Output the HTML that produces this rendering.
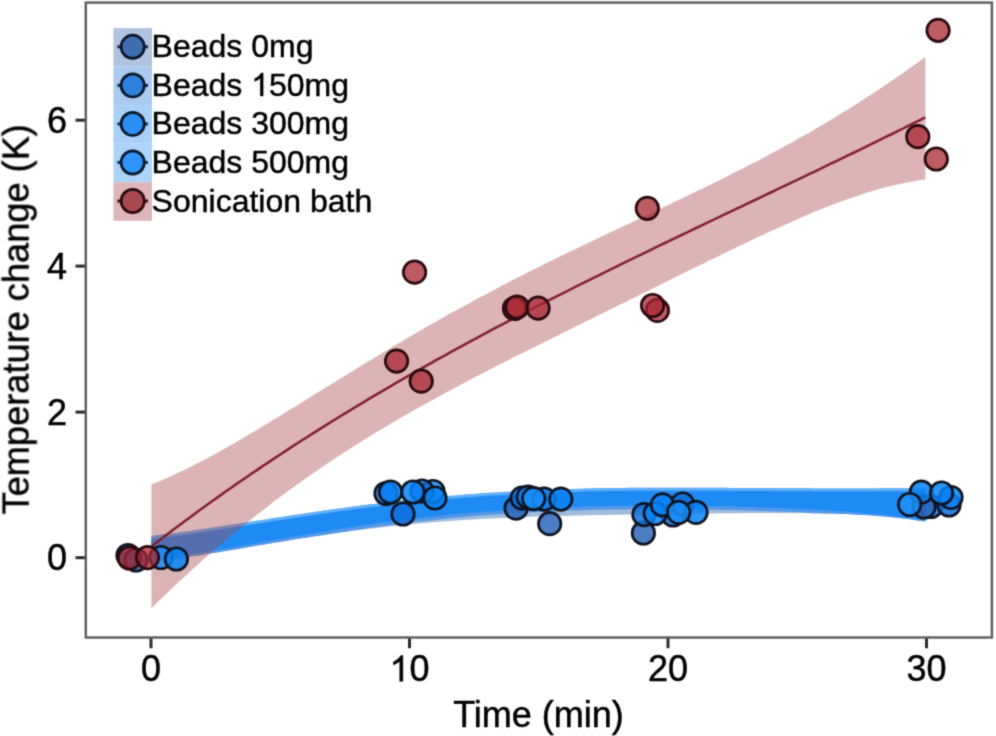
<!DOCTYPE html>
<html><head><meta charset="utf-8"><style>
html,body{margin:0;padding:0;background:#fff;}
svg{display:block;}
#wrap{width:996px;height:736px;}
text{font-family:"Liberation Sans",sans-serif;fill:#000;stroke:#000;stroke-width:0.45px;}
</style></head><body><div id="wrap">
<svg width="996" height="736" viewBox="0 0 996 736">
<defs><filter id="bl" x="0" y="0" width="996" height="736" filterUnits="userSpaceOnUse" color-interpolation-filters="sRGB"><feConvolveMatrix order="5" kernelMatrix="0.00001 0.00042 0.00170 0.00042 0.00001 0.00042 0.02740 0.10988 0.02740 0.00042 0.00170 0.10988 0.44065 0.10988 0.00170 0.00042 0.02740 0.10988 0.02740 0.00042 0.00001 0.00042 0.00170 0.00042 0.00001" edgeMode="duplicate" preserveAlpha="true"/></filter></defs>
<g filter="url(#bl)">
<rect width="996" height="736" fill="#fff"/>
<polygon points="151.5,536.0 157.1,535.3 162.6,534.6 168.2,533.9 173.8,533.2 179.3,532.4 184.9,531.7 190.5,530.9 196.0,530.1 201.6,529.3 207.2,528.4 212.7,527.6 218.3,526.8 223.9,525.9 229.4,525.1 235.0,524.2 240.6,523.3 246.1,522.5 251.7,521.6 257.3,520.7 262.9,519.9 268.4,519.0 274.0,518.1 279.6,517.3 285.1,516.4 290.7,515.6 296.3,514.7 301.8,513.9 307.4,513.1 313.0,512.2 318.5,511.4 324.1,510.6 329.7,509.8 335.2,509.0 340.8,508.3 346.4,507.5 351.9,506.7 357.5,506.0 363.1,505.3 368.6,504.6 374.2,503.9 379.8,503.2 385.3,502.5 390.9,501.9 396.5,501.2 402.0,500.6 407.6,500.0 413.2,499.4 418.7,498.8 424.3,498.2 429.9,497.7 435.4,497.2 441.0,496.6 446.6,496.1 452.2,495.7 457.7,495.2 463.3,494.7 468.9,494.3 474.4,493.9 480.0,493.5 485.6,493.1 491.1,492.7 496.7,492.4 502.3,492.0 507.8,491.7 513.4,491.4 519.0,491.1 524.5,490.8 530.1,490.5 535.7,490.3 541.2,490.0 546.8,489.8 552.4,489.6 557.9,489.4 563.5,489.2 569.1,489.0 574.6,488.9 580.2,488.7 585.8,488.6 591.3,488.4 596.9,488.3 602.5,488.2 608.0,488.1 613.6,488.0 619.2,488.0 624.7,487.9 630.3,487.8 635.9,487.8 641.5,487.8 647.0,487.7 652.6,487.7 658.2,487.7 663.7,487.7 669.3,487.7 674.9,487.7 680.4,487.7 686.0,487.7 691.6,487.7 697.1,487.7 702.7,487.7 708.3,487.7 713.8,487.8 719.4,487.8 725.0,487.8 730.5,487.9 736.1,487.9 741.7,487.9 747.2,488.0 752.8,488.0 758.4,488.1 763.9,488.1 769.5,488.1 775.1,488.2 780.6,488.2 786.2,488.2 791.8,488.3 797.3,488.3 802.9,488.3 808.5,488.3 814.0,488.4 819.6,488.4 825.2,488.4 830.8,488.4 836.3,488.4 841.9,488.4 847.5,488.4 853.0,488.4 858.6,488.4 864.2,488.4 869.7,488.4 875.3,488.4 880.9,488.3 886.4,488.3 892.0,488.3 897.6,488.2 903.1,488.2 908.7,488.1 914.3,488.1 919.8,488.0 925.4,487.9 925.4,521.6 919.8,520.7 914.3,519.9 908.7,519.1 903.1,518.4 897.6,517.8 892.0,517.2 886.4,516.7 880.9,516.2 875.3,515.7 869.7,515.3 864.2,515.0 858.6,514.7 853.0,514.4 847.5,514.1 841.9,513.9 836.3,513.7 830.8,513.5 825.2,513.4 819.6,513.3 814.0,513.2 808.5,513.1 802.9,513.0 797.3,513.0 791.8,513.0 786.2,512.9 780.6,512.9 775.1,512.9 769.5,512.9 763.9,513.0 758.4,513.0 752.8,513.0 747.2,513.1 741.7,513.1 736.1,513.2 730.5,513.2 725.0,513.3 719.4,513.3 713.8,513.4 708.3,513.5 702.7,513.5 697.1,513.6 691.6,513.7 686.0,513.7 680.4,513.8 674.9,513.9 669.3,514.0 663.7,514.0 658.2,514.1 652.6,514.2 647.0,514.3 641.5,514.3 635.9,514.4 630.3,514.5 624.7,514.6 619.2,514.7 613.6,514.8 608.0,514.9 602.5,515.0 596.9,515.1 591.3,515.2 585.8,515.3 580.2,515.4 574.6,515.5 569.1,515.7 563.5,515.8 557.9,515.9 552.4,516.1 546.8,516.3 541.2,516.4 535.7,516.6 530.1,516.8 524.5,517.0 519.0,517.2 513.4,517.4 507.8,517.7 502.3,517.9 496.7,518.2 491.1,518.5 485.6,518.7 480.0,519.0 474.4,519.4 468.9,519.7 463.3,520.1 457.7,520.4 452.2,520.8 446.6,521.2 441.0,521.6 435.4,522.1 429.9,522.5 424.3,523.0 418.7,523.5 413.2,524.0 407.6,524.5 402.0,525.1 396.5,525.7 390.9,526.3 385.3,526.9 379.8,527.5 374.2,528.2 368.6,528.8 363.1,529.5 357.5,530.2 351.9,531.0 346.4,531.7 340.8,532.5 335.2,533.2 329.7,534.0 324.1,534.9 318.5,535.7 313.0,536.5 307.4,537.4 301.8,538.3 296.3,539.1 290.7,540.0 285.1,541.0 279.6,541.9 274.0,542.8 268.4,543.7 262.9,544.7 257.3,545.6 251.7,546.5 246.1,547.5 240.6,548.4 235.0,549.4 229.4,550.3 223.9,551.2 218.3,552.2 212.7,553.1 207.2,554.0 201.6,554.9 196.0,555.7 190.5,556.6 184.9,557.4 179.3,558.2 173.8,559.0 168.2,559.7 162.6,560.4 157.1,561.1 151.5,561.7" fill="rgb(160,188,220)"/>
<polygon points="151.5,536.0 157.1,535.3 162.6,534.6 168.2,533.9 173.8,533.2 179.3,532.4 184.9,531.7 190.5,530.9 196.0,530.1 201.6,529.3 207.2,528.4 212.7,527.6 218.3,526.8 223.9,525.9 229.4,525.1 235.0,524.2 240.6,523.3 246.1,522.5 251.7,521.6 257.3,520.7 262.9,519.9 268.4,519.0 274.0,518.1 279.6,517.3 285.1,516.4 290.7,515.6 296.3,514.7 301.8,513.9 307.4,513.1 313.0,512.2 318.5,511.4 324.1,510.6 329.7,509.8 335.2,509.0 340.8,508.3 346.4,507.5 351.9,506.7 357.5,506.0 363.1,505.3 368.6,504.6 374.2,503.9 379.8,503.2 385.3,502.5 390.9,501.9 396.5,501.2 402.0,500.6 407.6,500.0 413.2,499.4 418.7,498.8 424.3,498.2 429.9,497.7 435.4,497.2 441.0,496.6 446.6,496.1 452.2,495.7 457.7,495.2 463.3,494.7 468.9,494.3 474.4,493.9 480.0,493.5 485.6,493.1 491.1,492.7 496.7,492.4 502.3,492.0 507.8,491.7 513.4,491.4 519.0,491.1 524.5,490.8 530.1,490.5 535.7,490.3 541.2,490.0 546.8,489.8 552.4,489.6 557.9,489.4 563.5,489.2 569.1,489.0 574.6,488.9 580.2,488.7 585.8,488.6 591.3,488.4 596.9,488.3 602.5,488.2 608.0,488.1 613.6,488.0 619.2,488.0 624.7,487.9 630.3,487.8 635.9,487.8 641.5,487.8 647.0,487.7 652.6,487.7 658.2,487.7 663.7,487.7 669.3,487.7 674.9,487.7 680.4,487.7 686.0,487.7 691.6,487.7 697.1,487.7 702.7,487.7 708.3,487.7 713.8,487.8 719.4,487.8 725.0,487.8 730.5,487.9 736.1,487.9 741.7,487.9 747.2,488.0 752.8,488.0 758.4,488.1 763.9,488.1 769.5,488.1 775.1,488.2 780.6,488.2 786.2,488.2 791.8,488.3 797.3,488.3 802.9,488.3 808.5,488.3 814.0,488.4 819.6,488.4 825.2,488.4 830.8,488.4 836.3,488.4 841.9,488.4 847.5,488.4 853.0,488.4 858.6,488.4 864.2,488.4 869.7,488.4 875.3,488.4 880.9,488.3 886.4,488.3 892.0,488.3 897.6,488.2 903.1,488.2 908.7,488.1 914.3,488.1 919.8,488.0 925.4,487.9 925.4,520.2 919.8,519.4 914.3,518.6 908.7,517.9 903.1,517.2 897.6,516.5 892.0,515.9 886.4,515.3 880.9,514.7 875.3,514.2 869.7,513.7 864.2,513.2 858.6,512.7 853.0,512.3 847.5,511.8 841.9,511.4 836.3,511.1 830.8,510.7 825.2,510.3 819.6,510.0 814.0,509.7 808.5,509.4 802.9,509.1 797.3,508.8 791.8,508.6 786.2,508.3 780.6,508.1 775.1,507.9 769.5,507.7 763.9,507.5 758.4,507.3 752.8,507.1 747.2,507.0 741.7,506.8 736.1,506.7 730.5,506.5 725.0,506.4 719.4,506.3 713.8,506.2 708.3,506.1 702.7,506.0 697.1,506.0 691.6,505.9 686.0,505.8 680.4,505.8 674.9,505.7 669.3,505.7 663.7,505.7 658.2,505.7 652.6,505.7 647.0,505.7 641.5,505.7 635.9,505.8 630.3,505.8 624.7,505.9 619.2,505.9 613.6,506.0 608.0,506.1 602.5,506.2 596.9,506.3 591.3,506.5 585.8,506.6 580.2,506.8 574.6,506.9 569.1,507.1 563.5,507.3 557.9,507.5 552.4,507.7 546.8,508.0 541.2,508.2 535.7,508.5 530.1,508.8 524.5,509.1 519.0,509.4 513.4,509.8 507.8,510.1 502.3,510.5 496.7,510.9 491.1,511.3 485.6,511.7 480.0,512.1 474.4,512.6 468.9,513.0 463.3,513.5 457.7,514.0 452.2,514.6 446.6,515.1 441.0,515.7 435.4,516.3 429.9,516.9 424.3,517.5 418.7,518.1 413.2,518.8 407.6,519.4 402.0,520.1 396.5,520.8 390.9,521.6 385.3,522.3 379.8,523.1 374.2,523.8 368.6,524.6 363.1,525.4 357.5,526.3 351.9,527.1 346.4,528.0 340.8,528.8 335.2,529.7 329.7,530.6 324.1,531.5 318.5,532.4 313.0,533.3 307.4,534.3 301.8,535.2 296.3,536.2 290.7,537.1 285.1,538.1 279.6,539.1 274.0,540.0 268.4,541.0 262.9,542.0 257.3,543.0 251.7,543.9 246.1,544.9 240.6,545.9 235.0,546.9 229.4,547.8 223.9,548.8 218.3,549.7 212.7,550.6 207.2,551.5 201.6,552.4 196.0,553.3 190.5,554.2 184.9,555.0 179.3,555.8 173.8,556.6 168.2,557.4 162.6,558.1 157.1,558.8 151.5,559.5" fill="rgb(95,175,248)"/>
<polygon points="151.5,539.0 157.1,538.3 162.6,537.6 168.2,536.9 173.8,536.2 179.3,535.4 184.9,534.7 190.5,533.9 196.0,533.1 201.6,532.3 207.2,531.4 212.7,530.6 218.3,529.8 223.9,528.9 229.4,528.1 235.0,527.2 240.6,526.3 246.1,525.5 251.7,524.6 257.3,523.7 262.9,522.9 268.4,522.0 274.0,521.1 279.6,520.3 285.1,519.4 290.7,518.6 296.3,517.7 301.8,516.9 307.4,516.1 313.0,515.2 318.5,514.4 324.1,513.6 329.7,512.8 335.2,512.0 340.8,511.3 346.4,510.5 351.9,509.7 357.5,509.0 363.1,508.3 368.6,507.6 374.2,506.9 379.8,506.2 385.3,505.5 390.9,504.9 396.5,504.2 402.0,503.6 407.6,503.0 413.2,502.4 418.7,501.8 424.3,501.2 429.9,500.7 435.4,500.2 441.0,499.6 446.6,499.1 452.2,498.7 457.7,498.2 463.3,497.7 468.9,497.3 474.4,496.9 480.0,496.5 485.6,496.1 491.1,495.7 496.7,495.4 502.3,495.0 507.8,494.7 513.4,494.4 519.0,494.1 524.5,493.8 530.1,493.5 535.7,493.3 541.2,493.0 546.8,492.8 552.4,492.6 557.9,492.4 563.5,492.2 569.1,492.0 574.6,491.9 580.2,491.7 585.8,491.6 591.3,491.4 596.9,491.3 602.5,491.2 608.0,491.1 613.6,491.0 619.2,491.0 624.7,490.9 630.3,490.8 635.9,490.8 641.5,490.8 647.0,490.7 652.6,490.7 658.2,490.7 663.7,490.7 669.3,490.7 674.9,490.7 680.4,490.7 686.0,490.7 691.6,490.7 697.1,490.7 702.7,490.7 708.3,490.7 713.8,490.8 719.4,490.8 725.0,490.8 730.5,490.9 736.1,490.9 741.7,490.9 747.2,491.0 752.8,491.0 758.4,491.1 763.9,491.1 769.5,491.1 775.1,491.2 780.6,491.2 786.2,491.2 791.8,491.3 797.3,491.3 802.9,491.3 808.5,491.3 814.0,491.4 819.6,491.4 825.2,491.4 830.8,491.4 836.3,491.4 841.9,491.4 847.5,491.4 853.0,491.4 858.6,491.4 864.2,491.4 869.7,491.4 875.3,491.4 880.9,491.3 886.4,491.3 892.0,491.3 897.6,491.2 903.1,491.2 908.7,491.1 914.3,491.1 919.8,491.0 925.4,490.9 925.4,521.6 919.8,520.7 914.3,519.9 908.7,519.1 903.1,518.4 897.6,517.8 892.0,517.2 886.4,516.7 880.9,516.2 875.3,515.7 869.7,515.3 864.2,515.0 858.6,514.7 853.0,514.4 847.5,514.1 841.9,513.9 836.3,513.7 830.8,513.5 825.2,513.4 819.6,513.3 814.0,513.2 808.5,512.9 802.9,512.6 797.3,512.3 791.8,512.1 786.2,511.8 780.6,511.6 775.1,511.4 769.5,511.2 763.9,511.0 758.4,510.8 752.8,510.6 747.2,510.5 741.7,510.3 736.1,510.2 730.5,510.0 725.0,509.9 719.4,509.8 713.8,509.7 708.3,509.6 702.7,509.5 697.1,509.5 691.6,509.4 686.0,509.3 680.4,509.3 674.9,509.2 669.3,509.2 663.7,509.2 658.2,509.2 652.6,509.2 647.0,509.2 641.5,509.2 635.9,509.3 630.3,509.3 624.7,509.4 619.2,509.4 613.6,509.5 608.0,509.6 602.5,509.7 596.9,509.8 591.3,510.0 585.8,510.1 580.2,510.3 574.6,510.4 569.1,510.6 563.5,510.8 557.9,511.0 552.4,511.2 546.8,511.5 541.2,511.7 535.7,512.0 530.1,512.3 524.5,512.6 519.0,512.9 513.4,513.3 507.8,513.6 502.3,514.0 496.7,514.4 491.1,514.8 485.6,515.2 480.0,515.6 474.4,516.1 468.9,516.5 463.3,517.0 457.7,517.5 452.2,518.1 446.6,518.6 441.0,519.2 435.4,519.8 429.9,520.4 424.3,521.0 418.7,521.6 413.2,522.3 407.6,522.9 402.0,523.6 396.5,524.3 390.9,525.1 385.3,525.8 379.8,526.6 374.2,527.3 368.6,528.1 363.1,528.9 357.5,529.8 351.9,530.6 346.4,531.5 340.8,532.3 335.2,533.2 329.7,534.0 324.1,534.9 318.5,535.7 313.0,536.5 307.4,537.4 301.8,538.3 296.3,539.1 290.7,540.0 285.1,541.0 279.6,541.9 274.0,542.8 268.4,543.7 262.9,544.7 257.3,545.6 251.7,546.5 246.1,547.5 240.6,548.4 235.0,549.4 229.4,550.3 223.9,551.2 218.3,552.2 212.7,553.1 207.2,554.0 201.6,554.9 196.0,555.7 190.5,556.6 184.9,557.4 179.3,558.2 173.8,559.0 168.2,559.7 162.6,560.4 157.1,561.1 151.5,561.7" fill="rgb(82,152,232)"/>
<polygon points="151.5,539.0 157.1,538.3 162.6,537.6 168.2,536.9 173.8,536.2 179.3,535.4 184.9,534.7 190.5,533.9 196.0,533.1 201.6,532.3 207.2,531.4 212.7,530.6 218.3,529.8 223.9,528.9 229.4,528.1 235.0,527.2 240.6,526.3 246.1,525.5 251.7,524.6 257.3,523.7 262.9,522.9 268.4,522.0 274.0,521.1 279.6,520.3 285.1,519.4 290.7,518.6 296.3,517.7 301.8,516.9 307.4,516.1 313.0,515.2 318.5,514.4 324.1,513.6 329.7,512.8 335.2,512.0 340.8,511.3 346.4,510.5 351.9,509.7 357.5,509.0 363.1,508.3 368.6,507.6 374.2,506.9 379.8,506.2 385.3,505.5 390.9,504.9 396.5,504.2 402.0,503.6 407.6,503.0 413.2,502.4 418.7,501.8 424.3,501.2 429.9,500.7 435.4,500.2 441.0,499.6 446.6,499.1 452.2,498.7 457.7,498.2 463.3,497.7 468.9,497.3 474.4,496.9 480.0,496.5 485.6,496.1 491.1,495.7 496.7,495.4 502.3,495.0 507.8,494.7 513.4,494.4 519.0,494.1 524.5,493.8 530.1,493.5 535.7,493.3 541.2,493.0 546.8,492.8 552.4,492.6 557.9,492.4 563.5,492.2 569.1,492.0 574.6,491.9 580.2,491.7 585.8,491.6 591.3,491.4 596.9,491.3 602.5,491.2 608.0,491.1 613.6,491.0 619.2,491.0 624.7,490.9 630.3,490.8 635.9,490.8 641.5,490.8 647.0,490.7 652.6,490.7 658.2,490.7 663.7,490.7 669.3,490.7 674.9,490.7 680.4,490.7 686.0,490.7 691.6,490.7 697.1,490.7 702.7,490.7 708.3,490.7 713.8,490.8 719.4,490.8 725.0,490.8 730.5,490.9 736.1,490.9 741.7,490.9 747.2,491.0 752.8,491.0 758.4,491.1 763.9,491.1 769.5,491.1 775.1,491.2 780.6,491.2 786.2,491.2 791.8,491.3 797.3,491.3 802.9,491.3 808.5,491.3 814.0,491.4 819.6,491.4 825.2,491.4 830.8,491.4 836.3,491.4 841.9,491.4 847.5,491.4 853.0,491.4 858.6,491.4 864.2,491.4 869.7,491.4 875.3,491.4 880.9,491.3 886.4,491.3 892.0,491.3 897.6,491.2 903.1,491.2 908.7,491.1 914.3,491.1 919.8,491.0 925.4,490.9 925.4,520.2 919.8,519.4 914.3,518.6 908.7,517.9 903.1,517.2 897.6,516.5 892.0,515.9 886.4,515.3 880.9,514.7 875.3,514.2 869.7,513.7 864.2,513.2 858.6,512.7 853.0,512.3 847.5,511.8 841.9,511.4 836.3,511.1 830.8,510.7 825.2,510.3 819.6,510.0 814.0,509.7 808.5,509.4 802.9,509.1 797.3,508.8 791.8,508.6 786.2,508.3 780.6,508.1 775.1,507.9 769.5,507.7 763.9,507.5 758.4,507.3 752.8,507.1 747.2,507.0 741.7,506.8 736.1,506.7 730.5,506.5 725.0,506.4 719.4,506.3 713.8,506.2 708.3,506.1 702.7,506.0 697.1,506.0 691.6,505.9 686.0,505.8 680.4,505.8 674.9,505.7 669.3,505.7 663.7,505.7 658.2,505.7 652.6,505.7 647.0,505.7 641.5,505.7 635.9,505.8 630.3,505.8 624.7,505.9 619.2,505.9 613.6,506.0 608.0,506.1 602.5,506.2 596.9,506.3 591.3,506.5 585.8,506.6 580.2,506.8 574.6,506.9 569.1,507.1 563.5,507.3 557.9,507.5 552.4,507.7 546.8,508.0 541.2,508.2 535.7,508.5 530.1,508.8 524.5,509.1 519.0,509.4 513.4,509.8 507.8,510.1 502.3,510.5 496.7,510.9 491.1,511.3 485.6,511.7 480.0,512.1 474.4,512.6 468.9,513.0 463.3,513.5 457.7,514.0 452.2,514.6 446.6,515.1 441.0,515.7 435.4,516.3 429.9,516.9 424.3,517.5 418.7,518.1 413.2,518.8 407.6,519.4 402.0,520.1 396.5,520.8 390.9,521.6 385.3,522.3 379.8,523.1 374.2,523.8 368.6,524.6 363.1,525.4 357.5,526.3 351.9,527.1 346.4,528.0 340.8,528.8 335.2,529.7 329.7,530.6 324.1,531.5 318.5,532.4 313.0,533.3 307.4,534.3 301.8,535.2 296.3,536.2 290.7,537.1 285.1,538.1 279.6,539.1 274.0,540.0 268.4,541.0 262.9,542.0 257.3,543.0 251.7,543.9 246.1,544.9 240.6,545.9 235.0,546.9 229.4,547.8 223.9,548.8 218.3,549.7 212.7,550.6 207.2,551.5 201.6,552.4 196.0,553.3 190.5,554.2 184.9,555.0 179.3,555.8 173.8,556.6 168.2,557.4 162.6,558.1 157.1,558.8 151.5,559.5" fill="rgb(30,139,244)"/>
<polygon points="151.4,484.5 157.0,482.2 162.5,479.9 168.1,477.5 173.7,474.9 179.2,472.3 184.8,469.7 190.4,466.9 195.9,464.1 201.5,461.2 207.1,458.3 212.7,455.3 218.2,452.2 223.8,449.1 229.4,446.0 234.9,442.8 240.5,439.5 246.1,436.3 251.6,433.0 257.2,429.7 262.8,426.3 268.3,423.0 273.9,419.6 279.5,416.2 285.0,412.8 290.6,409.3 296.2,405.9 301.7,402.4 307.3,399.0 312.9,395.5 318.5,392.1 324.0,388.6 329.6,385.2 335.2,381.7 340.7,378.3 346.3,374.9 351.9,371.4 357.4,368.0 363.0,364.6 368.6,361.2 374.1,357.9 379.7,354.5 385.3,351.2 390.8,347.8 396.4,344.5 402.0,341.2 407.5,338.0 413.1,334.7 418.7,331.5 424.2,328.3 429.8,325.1 435.4,321.9 441.0,318.8 446.5,315.6 452.1,312.5 457.7,309.4 463.2,306.4 468.8,303.4 474.4,300.3 479.9,297.3 485.5,294.4 491.1,291.4 496.6,288.5 502.2,285.6 507.8,282.7 513.3,279.8 518.9,277.0 524.5,274.1 530.0,271.3 535.6,268.5 541.2,265.8 546.8,263.0 552.3,260.2 557.9,257.5 563.5,254.8 569.0,252.1 574.6,249.4 580.2,246.7 585.7,244.0 591.3,241.4 596.9,238.7 602.4,236.1 608.0,233.4 613.6,230.8 619.1,228.2 624.7,225.5 630.3,222.9 635.8,220.3 641.4,217.7 647.0,215.0 652.6,212.4 658.1,209.8 663.7,207.1 669.3,204.5 674.8,201.8 680.4,199.2 686.0,196.5 691.5,193.8 697.1,191.1 702.7,188.4 708.2,185.7 713.8,183.0 719.4,180.2 724.9,177.4 730.5,174.6 736.1,171.8 741.6,169.0 747.2,166.1 752.8,163.3 758.3,160.4 763.9,157.4 769.5,154.5 775.1,151.5 780.6,148.5 786.2,145.4 791.8,142.4 797.3,139.2 802.9,136.1 808.5,132.9 814.0,129.7 819.6,126.5 825.2,123.2 830.7,119.9 836.3,116.5 841.9,113.1 847.4,109.7 853.0,106.2 858.6,102.7 864.1,99.1 869.7,95.5 875.3,91.8 880.9,88.1 886.4,84.4 892.0,80.6 897.6,76.8 903.1,72.9 908.7,69.0 914.3,65.1 919.8,61.1 925.4,57.0 925.4,179.6 919.8,180.3 914.3,181.2 908.7,182.2 903.1,183.2 897.6,184.4 892.0,185.7 886.4,187.1 880.9,188.6 875.3,190.2 869.7,191.8 864.1,193.5 858.6,195.4 853.0,197.2 847.4,199.2 841.9,201.2 836.3,203.3 830.7,205.4 825.2,207.6 819.6,209.8 814.0,212.1 808.5,214.5 802.9,216.8 797.3,219.2 791.8,221.7 786.2,224.2 780.6,226.7 775.1,229.2 769.5,231.8 763.9,234.4 758.3,237.0 752.8,239.6 747.2,242.2 741.6,244.9 736.1,247.6 730.5,250.3 724.9,253.0 719.4,255.7 713.8,258.4 708.2,261.1 702.7,263.9 697.1,266.6 691.5,269.3 686.0,272.1 680.4,274.8 674.8,277.6 669.3,280.3 663.7,283.1 658.1,285.9 652.6,288.6 647.0,291.4 641.4,294.1 635.8,296.9 630.3,299.6 624.7,302.4 619.1,305.1 613.6,307.9 608.0,310.6 602.4,313.4 596.9,316.1 591.3,318.9 585.7,321.6 580.2,324.4 574.6,327.1 569.0,329.9 563.5,332.6 557.9,335.4 552.3,338.2 546.8,340.9 541.2,343.7 535.6,346.5 530.0,349.3 524.5,352.0 518.9,354.8 513.3,357.6 507.8,360.5 502.2,363.3 496.6,366.1 491.1,369.0 485.5,371.8 479.9,374.7 474.4,377.6 468.8,380.5 463.2,383.4 457.7,386.4 452.1,389.4 446.5,392.3 441.0,395.4 435.4,398.4 429.8,401.4 424.2,404.5 418.7,407.6 413.1,410.8 407.5,413.9 402.0,417.1 396.4,420.4 390.8,423.6 385.3,426.9 379.7,430.3 374.1,433.6 368.6,437.0 363.0,440.5 357.4,444.0 351.9,447.5 346.3,451.1 340.7,454.7 335.2,458.3 329.6,462.0 324.0,465.8 318.5,469.5 312.9,473.4 307.3,477.3 301.7,481.2 296.2,485.2 290.6,489.2 285.0,493.3 279.5,497.5 273.9,501.6 268.3,505.9 262.8,510.2 257.2,514.6 251.6,519.0 246.1,523.4 240.5,528.0 234.9,532.5 229.4,537.2 223.8,541.9 218.2,546.6 212.7,551.5 207.1,556.3 201.5,561.3 195.9,566.2 190.4,571.3 184.8,576.4 179.2,581.6 173.7,586.8 168.1,592.0 162.5,597.4 157.0,602.8 151.4,608.2" fill="rgb(168,68,72)" fill-opacity="0.4"/>
<polyline points="151.9,546.0 157.5,541.7 163.0,537.5 168.6,533.3 174.2,529.1 179.7,524.9 185.3,520.8 190.9,516.7 196.4,512.6 202.0,508.5 207.5,504.5 213.1,500.5 218.7,496.6 224.2,492.6 229.8,488.7 235.4,484.8 240.9,481.0 246.5,477.2 252.1,473.3 257.6,469.6 263.2,465.8 268.8,462.1 274.3,458.4 279.9,454.7 285.5,451.1 291.0,447.4 296.6,443.8 302.1,440.2 307.7,436.7 313.3,433.1 318.8,429.6 324.4,426.1 330.0,422.6 335.5,419.2 341.1,415.8 346.7,412.4 352.2,409.0 357.8,405.6 363.4,402.3 368.9,398.9 374.5,395.6 380.1,392.3 385.6,389.1 391.2,385.8 396.7,382.6 402.3,379.4 407.9,376.2 413.4,373.0 419.0,369.8 424.6,366.7 430.1,363.6 435.7,360.4 441.3,357.4 446.8,354.3 452.4,351.2 458.0,348.2 463.5,345.1 469.1,342.1 474.7,339.1 480.2,336.1 485.8,333.1 491.3,330.2 496.9,327.2 502.5,324.3 508.0,321.4 513.6,318.5 519.2,315.6 524.7,312.7 530.3,309.8 535.9,306.9 541.4,304.1 547.0,301.2 552.6,298.4 558.1,295.6 563.7,292.8 569.3,290.0 574.8,287.2 580.4,284.4 586.0,281.6 591.5,278.8 597.1,276.1 602.6,273.3 608.2,270.6 613.8,267.9 619.3,265.1 624.9,262.4 630.5,259.7 636.0,257.0 641.6,254.3 647.2,251.6 652.7,248.9 658.3,246.2 663.9,243.5 669.4,240.8 675.0,238.1 680.6,235.5 686.1,232.8 691.7,230.1 697.2,227.5 702.8,224.8 708.4,222.2 713.9,219.5 719.5,216.9 725.1,214.2 730.6,211.6 736.2,208.9 741.8,206.3 747.3,203.6 752.9,201.0 758.5,198.3 764.0,195.7 769.6,193.0 775.2,190.4 780.7,187.7 786.3,185.1 791.8,182.4 797.4,179.8 803.0,177.1 808.5,174.4 814.1,171.8 819.7,169.1 825.2,166.4 830.8,163.7 836.4,161.1 841.9,158.4 847.5,155.7 853.1,153.0 858.6,150.3 864.2,147.6 869.8,144.9 875.3,142.2 880.9,139.4 886.4,136.7 892.0,134.0 897.6,131.2 903.1,128.5 908.7,125.7 914.3,122.9 919.8,120.2 925.4,117.4" fill="none" stroke="#80202e" stroke-width="2.5"/>
<circle cx="128" cy="555.5" r="11.25" fill="#2b66b8" fill-opacity="0.85" stroke="#0e1420" stroke-width="2.7"/>
<circle cx="136" cy="560" r="11.25" fill="#2b66b8" fill-opacity="0.85" stroke="#0e1420" stroke-width="2.7"/>
<circle cx="161" cy="557.5" r="11.25" fill="#1a8ffb" fill-opacity="0.85" stroke="#0e1420" stroke-width="2.7"/>
<circle cx="176.4" cy="559" r="11.25" fill="#0881f7" fill-opacity="0.85" stroke="#0e1420" stroke-width="2.7"/>
<circle cx="386" cy="493.5" r="11.25" fill="#0e6edc" fill-opacity="0.85" stroke="#0e1420" stroke-width="2.7"/>
<circle cx="433" cy="491.5" r="11.25" fill="#1a8ffb" fill-opacity="0.85" stroke="#0e1420" stroke-width="2.7"/>
<circle cx="422" cy="491" r="11.25" fill="#0e6edc" fill-opacity="0.85" stroke="#0e1420" stroke-width="2.7"/>
<circle cx="390.5" cy="492" r="11.25" fill="#0881f7" fill-opacity="0.85" stroke="#0e1420" stroke-width="2.7"/>
<circle cx="413" cy="492" r="11.25" fill="#0881f7" fill-opacity="0.85" stroke="#0e1420" stroke-width="2.7"/>
<circle cx="435" cy="498" r="11.25" fill="#0881f7" fill-opacity="0.85" stroke="#0e1420" stroke-width="2.7"/>
<circle cx="403" cy="514" r="11.25" fill="#0e6edc" fill-opacity="0.85" stroke="#0e1420" stroke-width="2.7"/>
<circle cx="516.1" cy="508.2" r="11.25" fill="#2b66b8" fill-opacity="0.85" stroke="#0e1420" stroke-width="2.7"/>
<circle cx="522.1" cy="498.1" r="11.25" fill="#0e6edc" fill-opacity="0.85" stroke="#0e1420" stroke-width="2.7"/>
<circle cx="528.2" cy="497.1" r="11.25" fill="#0881f7" fill-opacity="0.85" stroke="#0e1420" stroke-width="2.7"/>
<circle cx="544.2" cy="499.1" r="11.25" fill="#0881f7" fill-opacity="0.85" stroke="#0e1420" stroke-width="2.7"/>
<circle cx="533.7" cy="498.6" r="11.25" fill="#1a8ffb" fill-opacity="0.85" stroke="#0e1420" stroke-width="2.7"/>
<circle cx="560.8" cy="499.1" r="11.25" fill="#0881f7" fill-opacity="0.85" stroke="#0e1420" stroke-width="2.7"/>
<circle cx="549.7" cy="523.7" r="11.25" fill="#2b66b8" fill-opacity="0.85" stroke="#0e1420" stroke-width="2.7"/>
<circle cx="643.4" cy="533" r="11.25" fill="#2b66b8" fill-opacity="0.85" stroke="#0e1420" stroke-width="2.7"/>
<circle cx="673" cy="515" r="11.25" fill="#0e6edc" fill-opacity="0.85" stroke="#0e1420" stroke-width="2.7"/>
<circle cx="682.5" cy="504" r="11.25" fill="#0e6edc" fill-opacity="0.85" stroke="#0e1420" stroke-width="2.7"/>
<circle cx="643.9" cy="514.6" r="11.25" fill="#0e6edc" fill-opacity="0.85" stroke="#0e1420" stroke-width="2.7"/>
<circle cx="655.3" cy="513.5" r="11.25" fill="#0881f7" fill-opacity="0.85" stroke="#0e1420" stroke-width="2.7"/>
<circle cx="662.4" cy="504.8" r="11.25" fill="#0881f7" fill-opacity="0.85" stroke="#0e1420" stroke-width="2.7"/>
<circle cx="696" cy="512.4" r="11.25" fill="#0881f7" fill-opacity="0.85" stroke="#0e1420" stroke-width="2.7"/>
<circle cx="678.7" cy="512.4" r="11.25" fill="#1a8ffb" fill-opacity="0.85" stroke="#0e1420" stroke-width="2.7"/>
<circle cx="931" cy="506.5" r="11.25" fill="#0e6edc" fill-opacity="0.85" stroke="#0e1420" stroke-width="2.7"/>
<circle cx="949" cy="505" r="11.25" fill="#0e6edc" fill-opacity="0.85" stroke="#0e1420" stroke-width="2.7"/>
<circle cx="924" cy="507" r="11.25" fill="#2b66b8" fill-opacity="0.85" stroke="#0e1420" stroke-width="2.7"/>
<circle cx="951" cy="497.5" r="11.25" fill="#0881f7" fill-opacity="0.85" stroke="#0e1420" stroke-width="2.7"/>
<circle cx="921.3" cy="492.2" r="11.25" fill="#0881f7" fill-opacity="0.85" stroke="#0e1420" stroke-width="2.7"/>
<circle cx="941.5" cy="493" r="11.25" fill="#0881f7" fill-opacity="0.85" stroke="#0e1420" stroke-width="2.7"/>
<circle cx="909.7" cy="504.5" r="11.25" fill="#1a8ffb" fill-opacity="0.85" stroke="#0e1420" stroke-width="2.7"/>
<circle cx="129.4" cy="558" r="11.25" fill="rgb(168,38,48)" fill-opacity="0.75" stroke="#2a0a0e" stroke-width="2.7"/>
<circle cx="147.5" cy="557.6" r="11.25" fill="rgb(168,38,48)" fill-opacity="0.75" stroke="#2a0a0e" stroke-width="2.7"/>
<circle cx="396.6" cy="361.1" r="11.25" fill="rgb(168,38,48)" fill-opacity="0.75" stroke="#2a0a0e" stroke-width="2.7"/>
<circle cx="421.2" cy="381.2" r="11.25" fill="rgb(168,38,48)" fill-opacity="0.75" stroke="#2a0a0e" stroke-width="2.7"/>
<circle cx="414.6" cy="272.2" r="11.25" fill="rgb(168,38,48)" fill-opacity="0.75" stroke="#2a0a0e" stroke-width="2.7"/>
<circle cx="514.5" cy="308.5" r="11.25" fill="rgb(168,38,48)" fill-opacity="0.75" stroke="#2a0a0e" stroke-width="2.7"/>
<circle cx="517" cy="307" r="11.25" fill="rgb(168,38,48)" fill-opacity="0.75" stroke="#2a0a0e" stroke-width="2.7"/>
<circle cx="538.1" cy="308.1" r="11.25" fill="rgb(168,38,48)" fill-opacity="0.75" stroke="#2a0a0e" stroke-width="2.7"/>
<circle cx="647.3" cy="208.3" r="11.25" fill="rgb(168,38,48)" fill-opacity="0.75" stroke="#2a0a0e" stroke-width="2.7"/>
<circle cx="657.4" cy="310.4" r="11.25" fill="rgb(168,38,48)" fill-opacity="0.75" stroke="#2a0a0e" stroke-width="2.7"/>
<circle cx="652.6" cy="305.5" r="11.25" fill="rgb(168,38,48)" fill-opacity="0.75" stroke="#2a0a0e" stroke-width="2.7"/>
<circle cx="917.8" cy="136.7" r="11.25" fill="rgb(168,38,48)" fill-opacity="0.75" stroke="#2a0a0e" stroke-width="2.7"/>
<circle cx="936.3" cy="159" r="11.25" fill="rgb(168,38,48)" fill-opacity="0.75" stroke="#2a0a0e" stroke-width="2.7"/>
<circle cx="938.1" cy="30.3" r="11.25" fill="rgb(168,38,48)" fill-opacity="0.75" stroke="#2a0a0e" stroke-width="2.7"/>
<g stroke="#2a2a2a" stroke-width="3"><line x1="75.5" y1="557.7" x2="86" y2="557.7"/><line x1="75.5" y1="412.1" x2="86" y2="412.1"/><line x1="75.5" y1="266.1" x2="86" y2="266.1"/><line x1="75.5" y1="120.2" x2="86" y2="120.2"/><line x1="151" y1="637" x2="151" y2="648.2"/><line x1="409.5" y1="637" x2="409.5" y2="648.2"/><line x1="668" y1="637" x2="668" y2="648.2"/><line x1="926.5" y1="637" x2="926.5" y2="648.2"/></g>
<rect x="85.8" y="2.6" width="906.1" height="634.9" fill="none" stroke="#5c5c5c" stroke-width="2.4"/>
<g font-size="36"><text x="67" y="570.3" text-anchor="end">0</text><text x="67" y="424.7" text-anchor="end">2</text><text x="67" y="278.7" text-anchor="end">4</text><text x="67" y="132.8" text-anchor="end">6</text><text x="151.0" y="681.3" text-anchor="middle">0</text><path d="M 402.89,681.30 L 399.73,681.30 L 399.73,661.14 C 398.97,661.86 397.92,662.61 396.72,663.32 C 395.54,664.00 394.44,664.55 393.40,664.95 L 393.40,661.89 C 395.10,661.09 396.60,660.12 397.86,658.98 C 399.15,657.83 400.20,656.69 400.85,655.53 L 402.89,655.53 Z" fill="#000" stroke="#000" stroke-width="0.45"/><text x="409.50" y="681.3">0</text><text x="668.0" y="681.3" text-anchor="middle">20</text><text x="926.5" y="681.3" text-anchor="middle">30</text></g>
<text x="538.5" y="726.8" font-size="36" text-anchor="middle">Time (min)</text>
<text transform="translate(28.6,319.3) rotate(-90)" font-size="36.2" text-anchor="middle">Temperature change (K)</text>
<g font-size="32"><rect x="113.4" y="28.1" width="38.6" height="38.55" fill="#b0c4df"/><line x1="117.4" y1="46.8" x2="148.0" y2="46.8" stroke="#10264a" stroke-width="3"/><circle cx="132.70000000000002" cy="46.8" r="11.6" fill="#3f6db0" stroke="#0a1628" stroke-width="2.7"/><text x="151.6" y="57.3">Beads 0mg</text><rect x="113.4" y="66.7" width="38.6" height="38.55" fill="#aacbef"/><line x1="117.4" y1="85.4" x2="148.0" y2="85.4" stroke="#102c5a" stroke-width="3"/><circle cx="132.70000000000002" cy="85.4" r="11.6" fill="#2f80dc" stroke="#0a1628" stroke-width="2.7"/><text x="151.6" y="95.9">Beads </text><path d="M 263.15,95.88 L 260.33,95.88 L 260.33,77.95 C 259.66,78.59 258.73,79.27 257.66,79.89 C 256.62,80.50 255.63,80.98 254.71,81.34 L 254.71,78.62 C 256.23,77.91 257.55,77.05 258.68,76.03 C 259.82,75.02 260.76,74.00 261.33,72.97 L 263.15,72.97 Z" fill="#000" stroke="#000" stroke-width="0.45"/><text x="269.02" y="95.9">50mg</text><rect x="113.4" y="105.2" width="38.6" height="38.55" fill="#a9d0f7"/><line x1="117.4" y1="123.9" x2="148.0" y2="123.9" stroke="#10306a" stroke-width="3"/><circle cx="132.70000000000002" cy="123.9" r="11.6" fill="#2a8ef2" stroke="#0a1628" stroke-width="2.7"/><text x="151.6" y="134.4">Beads 300mg</text><rect x="113.4" y="143.8" width="38.6" height="38.55" fill="#acd4f9"/><line x1="117.4" y1="162.5" x2="148.0" y2="162.5" stroke="#103470" stroke-width="3"/><circle cx="132.70000000000002" cy="162.5" r="11.6" fill="#2f93fa" stroke="#0a1628" stroke-width="2.7"/><text x="151.6" y="173.0">Beads 500mg</text><rect x="113.4" y="182.3" width="38.6" height="38.55" fill="#deb6ba"/><line x1="117.4" y1="201.0" x2="148.0" y2="201.0" stroke="#3a0c12" stroke-width="3"/><circle cx="132.70000000000002" cy="201.0" r="11.6" fill="#aa4850" stroke="#2a0a0e" stroke-width="2.7"/><text x="151.6" y="211.5">Sonication bath</text></g>
</g>
</svg></div>
</body></html>
